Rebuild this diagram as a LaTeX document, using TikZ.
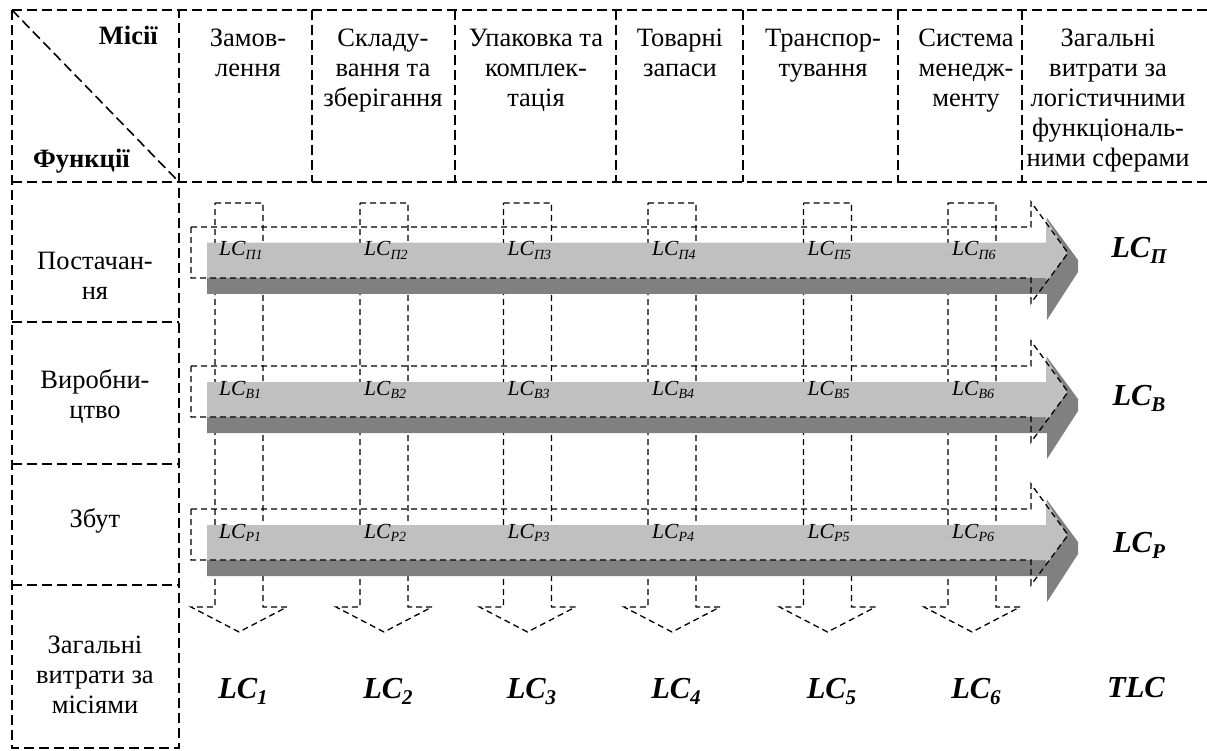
\documentclass[tikz,border=0pt]{standalone}
\usepackage{fontspec}
\setmainfont{Liberation Serif}
\definecolor{lightband}{HTML}{C0C0C0}
\definecolor{darkband}{HTML}{808080}
\newcommand{\smalllc}[1]{LC\raisebox{-3.5pt}{\fontsize{14}{14}\selectfont #1}}
\newcommand{\biglc}[1]{LC\raisebox{-6pt}{\fontsize{21}{21}\selectfont #1}}
\begin{document}
\begin{tikzpicture}[x=1pt,y=-1pt,
  tbl/.style={line width=1.6pt, dash pattern=on 10pt off 5pt},
  fine/.style={line width=1.3pt, dash pattern=on 6pt off 4pt},
  hdr/.style={align=center, font=\fontsize{26.5}{30}\selectfont, inner sep=0pt, anchor=base},
  smalllab/.style={inner sep=0pt, anchor=base west, font=\fontsize{21.5}{21.5}\selectfont\itshape},
  biglab/.style={inner sep=0pt, anchor=base, font=\fontsize{30.5}{30.5}\selectfont\bfseries\itshape}]
\useasboundingbox (0,0) rectangle (1207,751);

% mission columns (dashed channels with downward arrows)
\foreach \c in {239,384,527.5,672,827.5,972}{
  \draw[fine] (\c-24,203) -- (\c+24,203) -- (\c+24,607) -- (\c+48,607)
     -- (\c,632) -- (\c-48,607) -- (\c-24,607) -- cycle;
}

% grey 3D arrows with dashed outlines
\foreach \d in {0,139,282}{
  \fill[darkband] (207,243+\d) -- (1047,243+\d) -- (1047,218+\d) -- (1078,260+\d)
     -- (1078,272+\d) -- (1047,320+\d) -- (1047,294+\d) -- (207,294+\d) -- cycle;
  \fill[lightband] (207,243+\d) -- (1046,243+\d) -- (1046,218+\d) -- (1067,253+\d)
     -- (1046,283+\d) -- (1046,278+\d) -- (207,278+\d) -- cycle;
  \draw[fine] (191,227+\d) -- (1031,227+\d) -- (1031,202+\d) -- (1068,253+\d)
     -- (1031,303+\d) -- (1031,278+\d) -- (191,278+\d) -- cycle;
}

% small labels inside arrows
\foreach \c/\i in {239/1,384/2,527.5/3,672/4,827.5/5,972/6}{
  \node[smalllab] (p\i) at (\c-20,256) {\smalllc{П\i}};
  \node[smalllab] (v\i) at (\c-20,395) {\smalllc{В\i}};
  \node[smalllab] (r\i) at (\c-20,538) {\smalllc{Р\i}};
  \node[biglab] (lc\i) at (\c+4,698) {\biglc{\i}};
}
\node[biglab] (lcp) at (1139,258) {\biglc{П}};
\node[biglab] (lcv) at (1139,405) {\biglc{В}};
\node[biglab] (lcr) at (1139,552) {\biglc{Р}};
\node[biglab] (tlc) at (1136,697) {TLC};

% table
\draw[tbl] (12,10) -- (1207,10);
\draw[tbl] (12,182) -- (1207,182);
\draw[tbl] (12,10) -- (12,748) -- (179,748) -- (179,10);
\foreach \y in {322,464,585} \draw[tbl] (12,\y) -- (179,\y);
\foreach \x in {312,455,616,743,898,1022} \draw[tbl] (\x,10) -- (\x,182);
\draw[tbl] (12,10) -- (179,182);

% header texts (anchor = baseline of the last line)
\node[inner sep=0pt, anchor=base east, font=\fontsize{26.5}{30}\selectfont\bfseries] (mis) at (158,45) {Місії};
\node[inner sep=0pt, anchor=base west, font=\fontsize{26.5}{30}\selectfont\bfseries] (fun) at (33,168) {Функції};
\node[hdr] (h1) at (248,77) {Замов-\\лення};
\node[hdr] (h2) at (383,107) {Складу-\\вання та\\зберігання};
\node[hdr] (h3) at (536,107) {Упаковка та\\комплек-\\тація};
\node[hdr] (h4) at (680,77) {Товарні\\запаси};
\node[hdr] (h5) at (823,77) {Транспор-\\тування};
\node[hdr] (h6) at (966,107) {Система\\менедж-\\менту};
\node[hdr] (h7) at (1108,167) {Загальні\\витрати за\\логістичними\\функціональ-\\ними сферами};

% row texts
\node[hdr] (f1) at (95,300) {Постачан-\\ня};
\node[hdr] (f2) at (95,418) {Виробни-\\цтво};
\node[hdr] (f3) at (95,527) {Збут};
\node[hdr] (f4) at (95,713) {Загальні\\витрати за\\місіями};
\end{tikzpicture}
\end{document}
